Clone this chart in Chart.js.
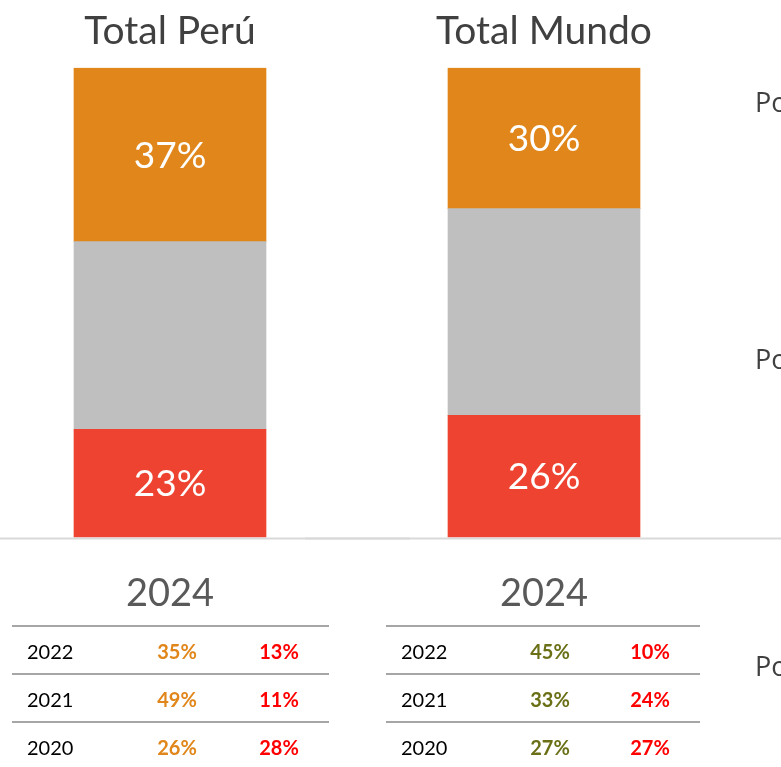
<!DOCTYPE html>
<html>
<head>
<meta charset="utf-8">
<script src="https://cdn.jsdelivr.net/npm/chart.js@4/dist/chart.umd.min.js"></script>
<style>
  html, body { margin:0; padding:0; width:781px; height:767px; overflow:hidden; background:#fff; }
  body { position:relative; font-family: Lato, "Open Sans", sans-serif; }
  .cw { position:absolute; top:0; height:651px; }
  .tbl { position:absolute; top:625px; border-collapse:collapse; table-layout:fixed; font-family: Lato, sans-serif; font-size:20px; }
  .tbl td { height:48px; border-top:2px solid #a6a6a6; padding:0; padding-top:1px; vertical-align:middle; box-sizing:border-box; }
  .tbl td.y { color:#000; text-align:left; padding-left:15px; }
  .tbl td.p { font-weight:bold; text-align:center; }
  .side { position:absolute; left:755px; font-family:"Open Sans", sans-serif; font-size:27px; color:#404040; line-height:1; white-space:nowrap; }
</style>
</head>
<body>
<div class="cw" style="left:0;width:410px;"><canvas id="c0"></canvas></div>
<div class="cw" style="left:305px;width:476px;"><canvas id="c1"></canvas></div>
<table class="tbl" id="t0" style="left:12px;width:317px;"></table>
<table class="tbl" id="t1" style="left:386px;width:314px;"></table>
<div class="side" style="top:88px;">Po</div>
<div class="side" style="top:345px;">Po</div>
<div class="side" style="top:652px;">Po</div>
<script>
// ---- data ----
const categories = ["Total Perú", "Total Mundo"];
const periodLabel = ["2024", "2024"];
const topShare = [37, 30];      // orange
const middleShare = [40, 44];   // grey (unlabelled)
const bottomShare = [23, 26];   // red
const tableYears = ["2022", "2021", "2020"];
const peruTop = [35, 49, 26];
const peruBottom = [13, 11, 28];
const mundoTop = [45, 33, 27];
const mundoBottom = [10, 24, 27];

const ORANGE = "#E0861A", GREY = "#BFBFBF", RED = "#EE4330";

const insideLabels = {
  id: "insideLabels",
  afterDatasetsDraw(chart) {
    const ctx = chart.ctx;
    chart.data.datasets.forEach((ds, di) => {
      if (!ds.showLabel) return;
      const meta = chart.getDatasetMeta(di);
      meta.data.forEach((bar, i) => {
        const v = ds.data[i];
        const y = (bar.y + bar.base) / 2;
        ctx.save();
        ctx.fillStyle = "#fff";
        ctx.font = "37px Lato, sans-serif";
        ctx.textAlign = "center";
        ctx.textBaseline = "middle";
        ctx.fillText(v + "%", bar.x, y + 1);
        ctx.restore();
      });
    });
  }
};
const baseLine = {
  id: "baseLine",
  afterDraw(chart) {
    const ctx = chart.ctx;
    const y = chart.chartArea.bottom + 1;
    ctx.save();
    ctx.strokeStyle = "#d9d9d9";
    ctx.lineWidth = 2;
    ctx.beginPath();
    ctx.moveTo(0, y);
    ctx.lineTo(chart.width, y);
    ctx.stroke();
    ctx.restore();
  }
};

function makeChart(id, i, padL, padR) {
  new Chart(document.getElementById(id), {
    type: "bar",
    data: {
      labels: [periodLabel[i]],
      datasets: [
        { data: [bottomShare[i]], backgroundColor: RED, showLabel: true },
        { data: [middleShare[i]], backgroundColor: GREY, showLabel: false },
        { data: [topShare[i]], backgroundColor: ORANGE, showLabel: true }
      ]
    },
    options: {
      responsive: true,
      maintainAspectRatio: false,
      animation: false,
      layout: { padding: { left: padL, right: padR, top: 0, bottom: 0 } },
      datasets: { bar: { barThickness: 192, borderWidth: 0 } },
      plugins: {
        legend: { display: false },
        tooltip: { enabled: false },
        title: {
          display: true, text: categories[i], color: "#404040",
          font: { family: "Lato, sans-serif", size: 39, weight: "normal" },
          padding: { top: 8, bottom: 13 }
        }
      },
      scales: {
        x: {
          stacked: true,
          grid: { display: false, drawTicks: false },
          border: { display: false },
          ticks: { color: "#595959", padding: 34, font: { family: "Lato, sans-serif", size: 38 } }
        },
        y: { stacked: true, display: false, min: 0, max: 100 }
      }
    },
    plugins: [insideLabels, baseLine]
  });
}
makeChart("c0", 0, 0, 70);
makeChart("c1", 1, 69, 67);

function makeTable(id, topVals, bottomVals, topColor, w1, w2) {
  const t = document.getElementById(id);
  tableYears.forEach((yr, r) => {
    const tr = document.createElement("tr");
    const a = document.createElement("td"); a.className = "y"; a.textContent = yr; a.style.width = w1 + "px";
    const b = document.createElement("td"); b.className = "p"; b.textContent = topVals[r] + "%"; b.style.color = topColor; b.style.width = w2 + "px";
    const c = document.createElement("td"); c.className = "p"; c.textContent = bottomVals[r] + "%"; c.style.color = "#FF0000";
    tr.append(a, b, c);
    t.appendChild(tr);
  });
}
makeTable("t0", peruTop, peruBottom, ORANGE, 113, 104);
makeTable("t1", mundoTop, mundoBottom, "#6B7017", 114, 100);
</script>
</body>
</html>
